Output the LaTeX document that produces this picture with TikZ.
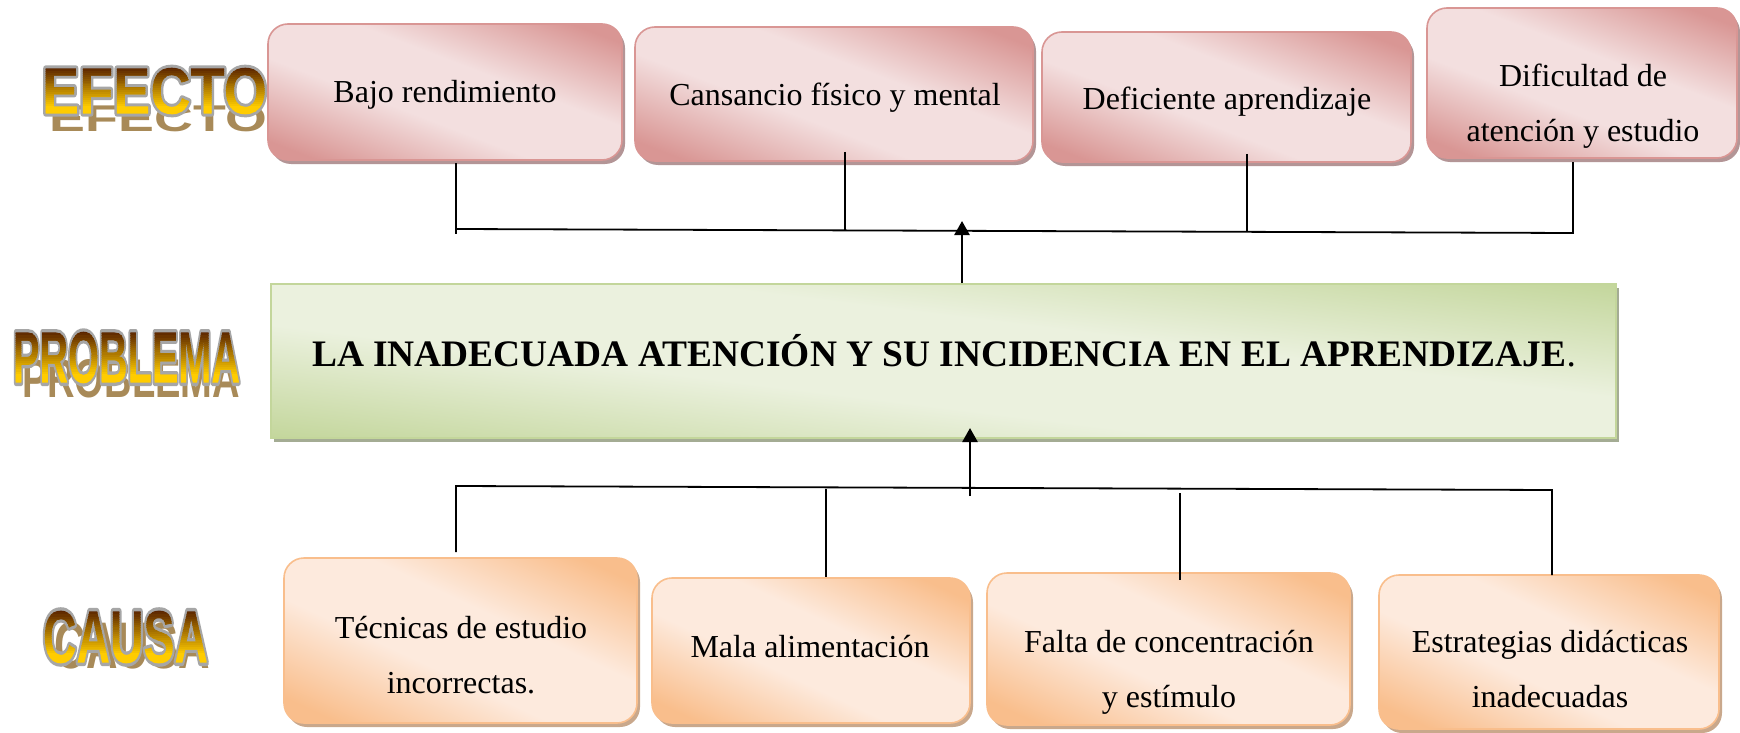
\documentclass[tikz,border=0pt]{standalone}
\usepackage{fontspec}
\setmainfont{Liberation Serif}
\newfontfamily\wafont{Liberation Sans}
\usetikzlibrary{arrows.meta,calc,shadows}

\definecolor{pinkD}{HTML}{D99694}
\definecolor{pinkL}{HTML}{F3DFDF}
\definecolor{pinkS}{HTML}{B39596}
\definecolor{oraD}{HTML}{F9BE8C}
\definecolor{oraL}{HTML}{FDEADD}
\definecolor{oraS}{HTML}{C9A88C}
\definecolor{grnD}{HTML}{C3D69B}
\definecolor{grnL}{HTML}{EBF1DE}
\definecolor{grnS}{HTML}{A4AC94}
\definecolor{waLine}{HTML}{A6A6A6}
\definecolor{waShadow}{HTML}{A88A58}

\pgfdeclarehorizontalshading{pinkshade}{100bp}{color(0bp)=(pinkD); color(22bp)=(pinkD); color(42bp)=(pinkL); color(58bp)=(pinkL); color(78bp)=(pinkD); color(100bp)=(pinkD)}
\pgfdeclarehorizontalshading{orashade}{100bp}{color(0bp)=(oraD); color(22bp)=(oraD); color(42bp)=(oraL); color(58bp)=(oraL); color(78bp)=(oraD); color(100bp)=(oraD)}
\pgfdeclarehorizontalshading{grnshade}{100bp}{color(0bp)=(grnD); color(22bp)=(grnD); color(42bp)=(grnL); color(58bp)=(grnL); color(78bp)=(grnD); color(100bp)=(grnD)}

\tikzset{
  effbox/.style={draw=pinkD, line width=1.6pt, rounded corners=20pt, shading=pinkshade, shading angle=69, inner sep=0pt,
    drop shadow={shadow xshift=3pt, shadow yshift=-4pt, fill=pinkS, opacity=1}},
  caubox/.style={draw=oraD, line width=1.6pt, rounded corners=20pt, shading=orashade, shading angle=65, inner sep=0pt,
    drop shadow={shadow xshift=3pt, shadow yshift=-4pt, fill=oraS, opacity=1}},
  probbox/.style={draw=grnD, line width=1.6pt, shading=grnshade, shading angle=83, inner sep=0pt,
    drop shadow={shadow xshift=3pt, shadow yshift=-4pt, fill=grnS, opacity=1}},
  lbl/.style={anchor=base, inner sep=0pt, font=\fontsize{32}{40}\selectfont},
  conn/.style={line width=1.8pt, black},
  arr/.style={line width=2.6pt, black, -{Triangle[width=15pt,length=14pt]}},
  wa/.style={inner sep=0pt, outer sep=0pt, anchor=center, font=\wafont\bfseries},
}

\newcommand{\wabig}{\fontsize{60}{60}\selectfont}
\newcommand{\strokeon}{\special{pdf:literal direct 1 Tr 5.5 w 1 j}}
\newcommand{\strokeoff}{\special{pdf:literal direct 0 Tr}}

\newsavebox\wabox
\newcommand\gradtext[1]{%
  \sbox\wabox{\wabig #1}%
  \pgfmathsetmacro\waW{\wd\wabox*0.99626+4}%
  \pgfmathsetmacro\waWW{\waW+8}%
  \pgfmathsetmacro\waH{\ht\wabox*0.99626}%
  \gdef\wabands{}%
  \foreach \i in {0,...,23}{%
    \pgfmathsetmacro\wat{min(1,\i/20)}%
    \pgfmathsetmacro\war{0.353+\wat*0.647}%
    \pgfmathsetmacro\wag{0.141+\wat*0.659}%
    \pgfmathsetmacro\wayb{\waH-(\i+1)*\waH/24-0.4-(\i==23)*4}%
    \pgfmathsetmacro\wahh{\waH/24+0.8+(\i==23)*4}%
    \xdef\wabands{\wabands\space\war\space\wag\space 0 rg -\waW\space\wayb\space\waWW\space\wahh\space re f}%
  }%
  \special{pdf:literal direct q 7 Tr}\usebox\wabox\special{pdf:literal direct 0 Tr}%
  \special{pdf:literal \wabands}\special{pdf:literal direct Q}%
}

% #1 id, #2 cx, #3 cy, #4 width, #5 height, #6 text
\newcommand{\wordart}[6]{%
  \node[wa,text=waLine] (#1o) at (#2,#3) {\resizebox{#4pt}{#5pt}{\wabig\strokeon #6\strokeoff}};
  \node[wa] (#1g) at (#2,#3) {\resizebox{#4pt}{#5pt}{\gradtext{#6}}};
}

\begin{document}
\begin{tikzpicture}[x=1pt,y=-1pt]
\useasboundingbox (0,0) rectangle (1740,733);
\fill[white] (0,0) rectangle (1740,733);

% WordArt labels
\node[wa,text=waShadow] (efs) at (158.5,119) {\resizebox{217pt}{26pt}{\wabig EFECTO}};
\wordart{ef}{154.5}{91}{225}{46}{EFECTO}
\node[wa,text=waShadow] (prs) at (131,379) {\resizebox{218pt}{38pt}{\wabig PROBLEMA}};
\wordart{pr}{126.5}{357.5}{227}{51}{PROBLEMA}
\node[wa,text=waShadow] (cas) at (132.5,646) {\resizebox{155pt}{46pt}{\wabig CAUSA}};
\wordart{ca}{125.5}{637}{165}{52}{CAUSA}

% effect boxes
\node[effbox, minimum width=354pt, minimum height=136pt] (e1) at (445,92) {};
\node[effbox, minimum width=398pt, minimum height=134pt] (e2) at (834,94) {};
\node[effbox, minimum width=369pt, minimum height=130pt] (e3) at (1226.5,97) {};
\node[effbox, minimum width=310pt, minimum height=150pt] (e4) at (1582,83) {};
\node[lbl] (e1t) at (445,103) {Bajo rendimiento};
\node[lbl] (e2t) at (835,106) {Cansancio físico y mental};
\node[lbl] (e3t) at (1227,110) {Deficiente aprendizaje};
\node[lbl] (e4a) at (1583,87) {Dificultad de};
\node[lbl] (e4b) at (1583,142) {atención y estudio};

% problem box
\node[probbox, minimum width=1345pt, minimum height=154pt] (prob) at (943.5,361) {};
\node[anchor=base, inner sep=0pt, font=\fontsize{37.4}{44}\selectfont] (probt) at (944,366)
  {\textbf{LA INADECUADA ATENCIÓN Y SU INCIDENCIA EN EL APRENDIZAJE}.};

% cause boxes
\node[caubox, minimum width=353pt, minimum height=165pt] (c1) at (460.5,640.5) {};
\node[caubox, minimum width=318pt, minimum height=145pt] (c2) at (811,650.5) {};
\node[caubox, minimum width=363pt, minimum height=152pt] (c3) at (1168.5,649) {};
\node[caubox, minimum width=340pt, minimum height=154pt] (c4) at (1549,652) {};
\node[lbl] (c1a) at (461,638) {Técnicas de estudio};
\node[lbl] (c1b) at (461,693) {incorrectas.};
\node[lbl] (c2t) at (810,657) {Mala alimentación};
\node[lbl] (c3a) at (1169,652) {Falta de concentración};
\node[lbl] (c3b) at (1169,707) {y estímulo};
\node[lbl] (c4a) at (1550,652) {Estrategias didácticas};
\node[lbl] (c4b) at (1550,707) {inadecuadas};

% top connectors
\coordinate (te1) at (456,163);
\coordinate (te2) at (845,152);
\coordinate (te3) at (1247,154);
\coordinate (te4) at (1573,162);
\coordinate (tj1) at (456,229);
\coordinate (tj2) at (845,230);
\coordinate (tj3) at (1247,231);
\coordinate (tj4) at (1573,233);
\draw[conn] (te1) -- ($(tj1)+(0,5)$);
\draw[conn] (tj1) -- (tj4);
\draw[conn] (te4) -- ($(tj4)+(0,1)$);
\draw[conn] (te2) -- (tj2);
\draw[conn] (te3) -- (tj3);
\coordinate (ta) at (962,221);
\draw[arr] (prob.north -| ta) -- (ta);

% bottom connectors
\coordinate (bj1) at (456,486);
\coordinate (bj2) at (826,489);
\coordinate (bj3) at (1180,493);
\coordinate (bj4) at (1552,490);
\coordinate (bc1) at (456,552);
\coordinate (bc2) at (826,577);
\coordinate (bc3) at (1180,580);
\coordinate (bc4) at (1552,575);
\draw[conn] (bc1) -- (bj1) -- (bj4) -- (bc4);
\draw[conn] (bj2) -- (bc2);
\draw[conn] (bj3) -- (bc3);
\coordinate (bas) at (970,496);
\coordinate (bat) at (970,428);
\draw[arr] (bas) -- (bat);
\end{tikzpicture}
\end{document}
